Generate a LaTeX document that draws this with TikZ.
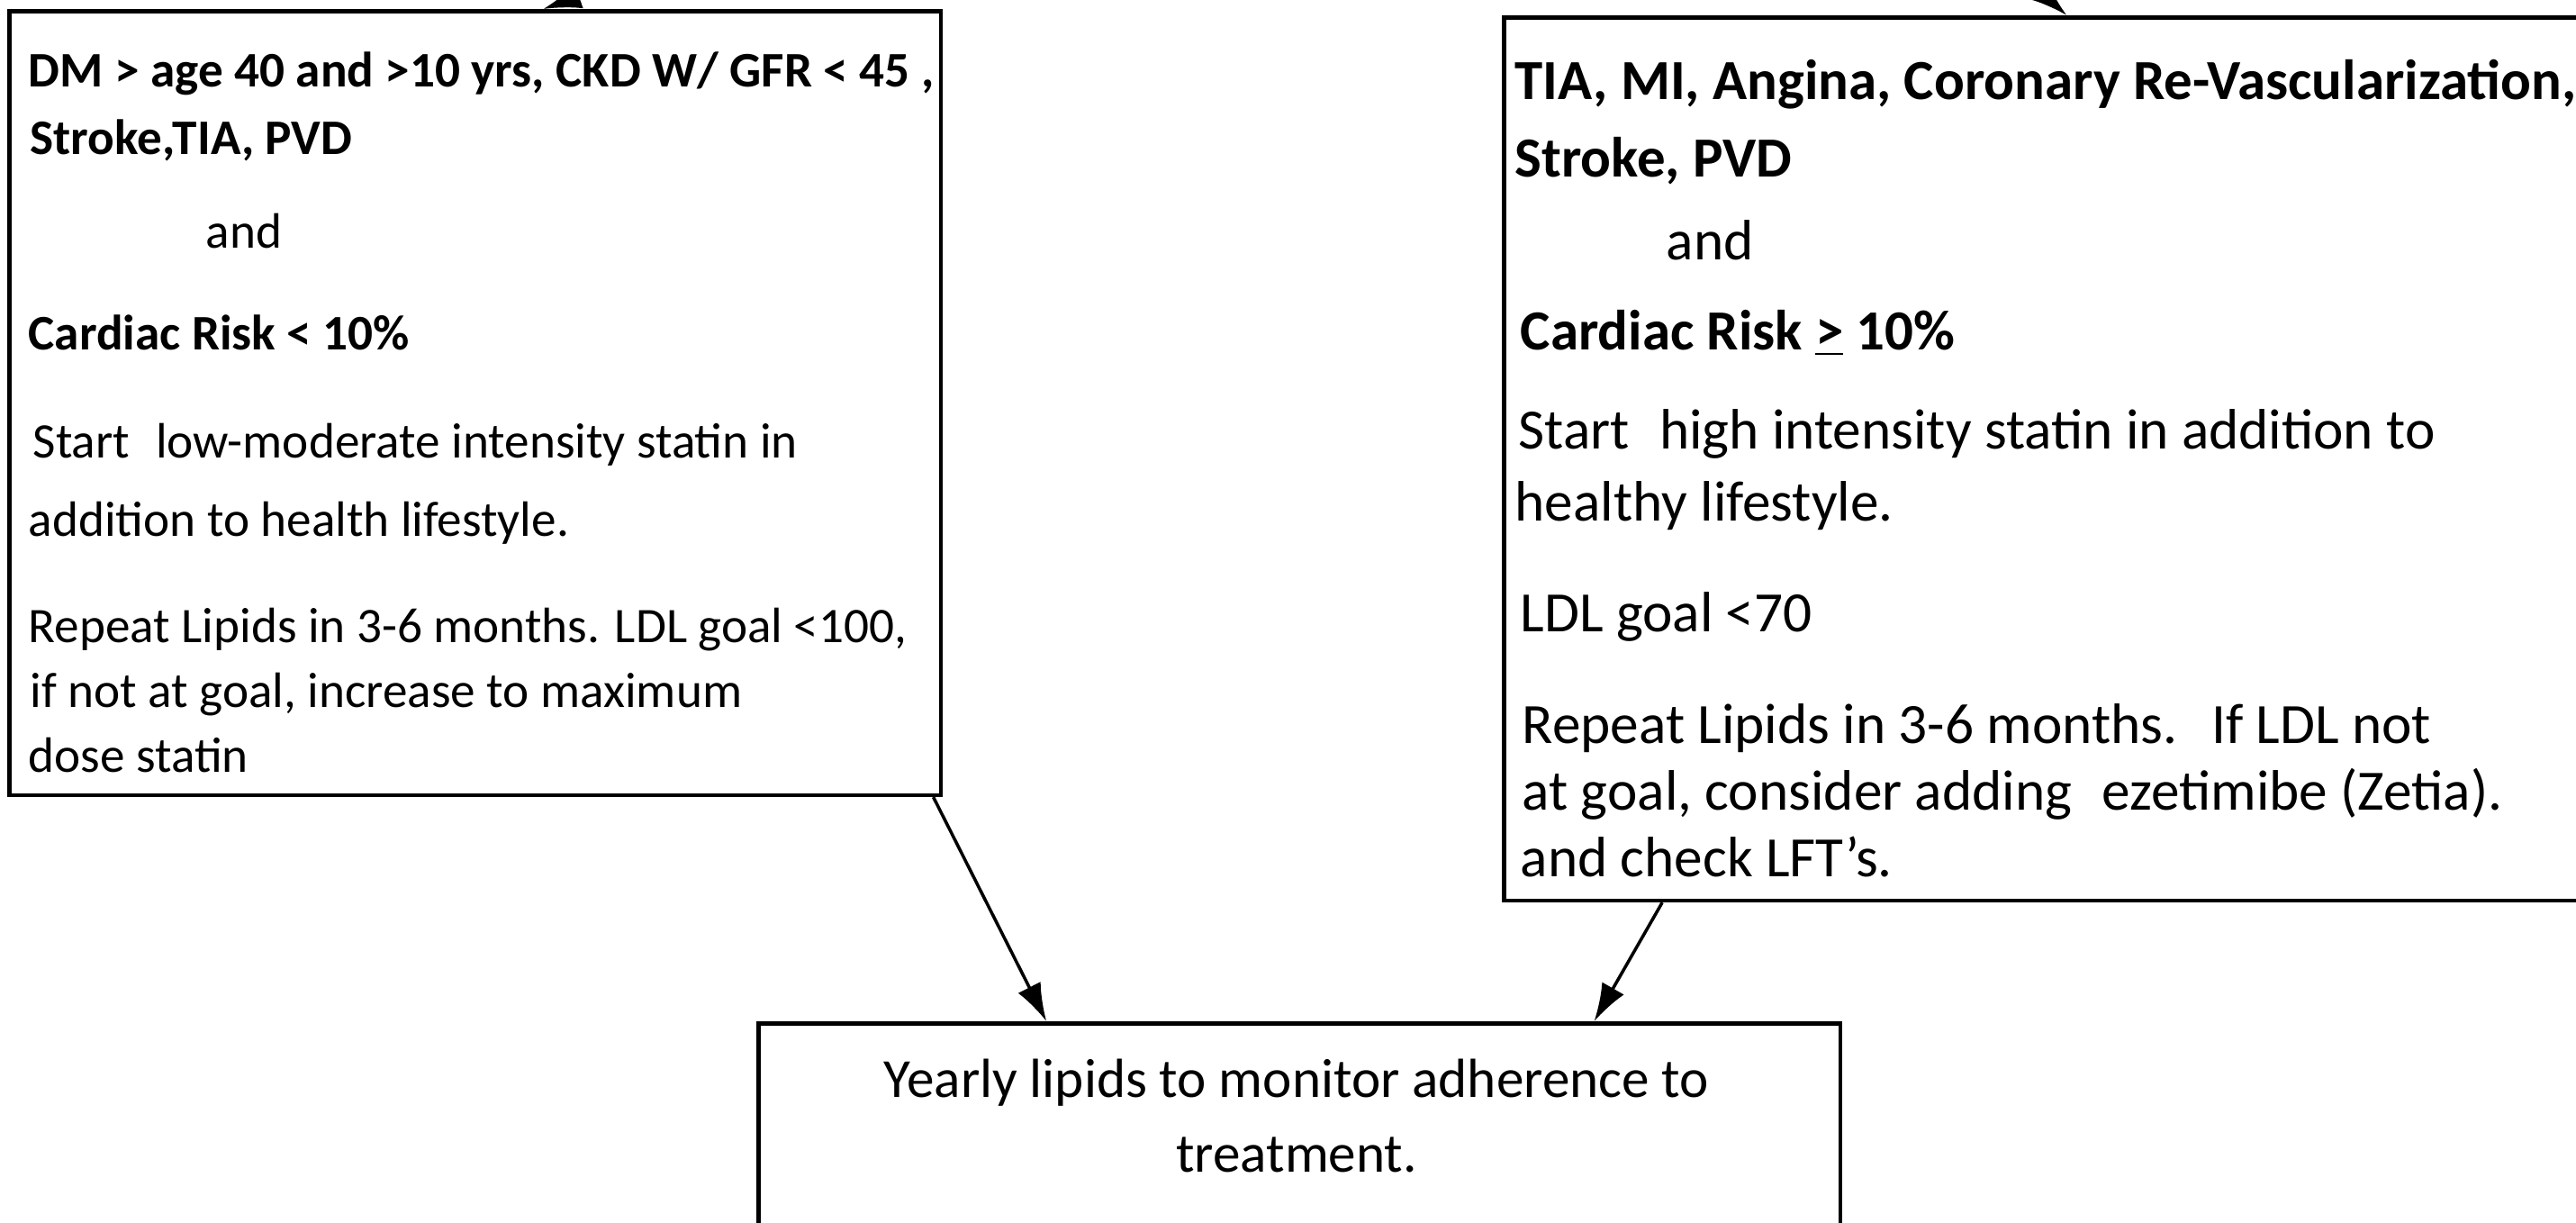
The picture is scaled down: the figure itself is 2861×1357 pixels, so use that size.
\documentclass[tikz,border=0pt]{standalone}
\usepackage{fontspec}
\setmainfont{Carlito}
\usetikzlibrary{arrows.meta,calc}
\begin{document}
\begin{tikzpicture}[x=0.01cm,y=-0.01cm,
  box/.style={draw=black, line width=1.3pt, rectangle, inner sep=0pt, anchor=north west},
  txt/.style={anchor=base west, inner sep=0pt, font=\fontsize{15.7}{19}\selectfont},
  btxt/.style={anchor=base west, inner sep=0pt, font=\fontsize{15.7}{19}\selectfont\bfseries},
  rtxt/.style={anchor=base west, inner sep=0pt, font=\fontsize{18}{22}\selectfont},
  rbtxt/.style={anchor=base west, inner sep=0pt, font=\fontsize{17.9}{22}\selectfont\bfseries},
  ctxt/.style={anchor=base, inner sep=0pt, font=\fontsize{17.4}{21}\selectfont},
  arr/.style={draw=black, line width=1pt, -{Latex[length=0.42cm,width=0.28cm]}}]
\useasboundingbox (0,0) rectangle (2861,1357);
\fill[white] (0,0) rectangle (2861,1357);

% boxes
\node[box, minimum width=10.34cm, minimum height=8.70cm] (L) at (8,10) {};
\node[box, minimum width=12.4cm, minimum height=9.80cm] (R) at (1668,17) {};
\node[box, minimum width=12.01cm, minimum height=3.0cm] (B) at (840,1134) {};

% left box text
\node[btxt] (l1) at (31,96)  {DM > age 40 and >10 yrs, CKD W/ GFR < 45 ,};
\node[btxt] (l2) at (33,171) {Stroke,TIA, PVD};
\node[txt]  (l3) at (228,275) {and};
\node[btxt] (l4) at (31,388) {Cardiac Risk < 10\%};
\node[txt]  (l5) at (36,508) {Start\hspace{0.3em} low-moderate intensity statin in};
\node[txt]  (l6) at (31,595) {addition to health lifestyle.};
\node[txt]  (l7) at (31,713) {Repeat Lipids in 3-6 months. LDL goal <100,};
\node[txt]  (l8) at (33,785) {if not at goal, increase to maximum};
\node[txt]  (l9) at (31,857) {dose statin};

% right box text
\node[rbtxt] (r1) at (1682,110) {TIA, MI, Angina, Coronary Re-Vascularization,};
\node[rbtxt] (r2) at (1682,196) {Stroke, PVD};
\node[rtxt]  (r3) at (1850,288) {and};
\node[rbtxt] (r4) at (1688,388) {Cardiac Risk \underline{>} 10\%};
\node[rtxt]  (r5) at (1686,498) {Start\hspace{0.3em} high intensity statin in addition to};
\node[rtxt]  (r6) at (1682,578) {healthy lifestyle.};
\node[rtxt]  (r7) at (1688,701) {LDL goal <70};
\node[rtxt]  (r8) at (1690,825) {Repeat Lipids in 3-6 months.\hspace{0.3em} If LDL not};
\node[rtxt]  (r9) at (1690,899) {at goal, consider adding\hspace{0.3em} ezetimibe (Zetia).};
\node[rtxt]  (r10) at (1688,973) {and check LFT's.};

% bottom box text
\node[ctxt] (b1) at (1440,1218) {Yearly lipids to monitor adherence to};
\node[ctxt] (b2) at (1440,1301) {treatment.};

% connectors
\coordinate (t1) at (760,-45);
\coordinate (t2) at (2215,-55);
\draw[arr] (t1) -- ([xshift=5.95cm]L.north west);
\draw[arr] (t2) -- ([xshift=6.27cm]R.north west);
\draw[arr] ([xshift=10.28cm]L.south west) -- ([xshift=3.22cm]B.north west);
\draw[arr] ([xshift=1.78cm]R.south west) -- ([xshift=9.30cm]B.north west);
\end{tikzpicture}
\end{document}
